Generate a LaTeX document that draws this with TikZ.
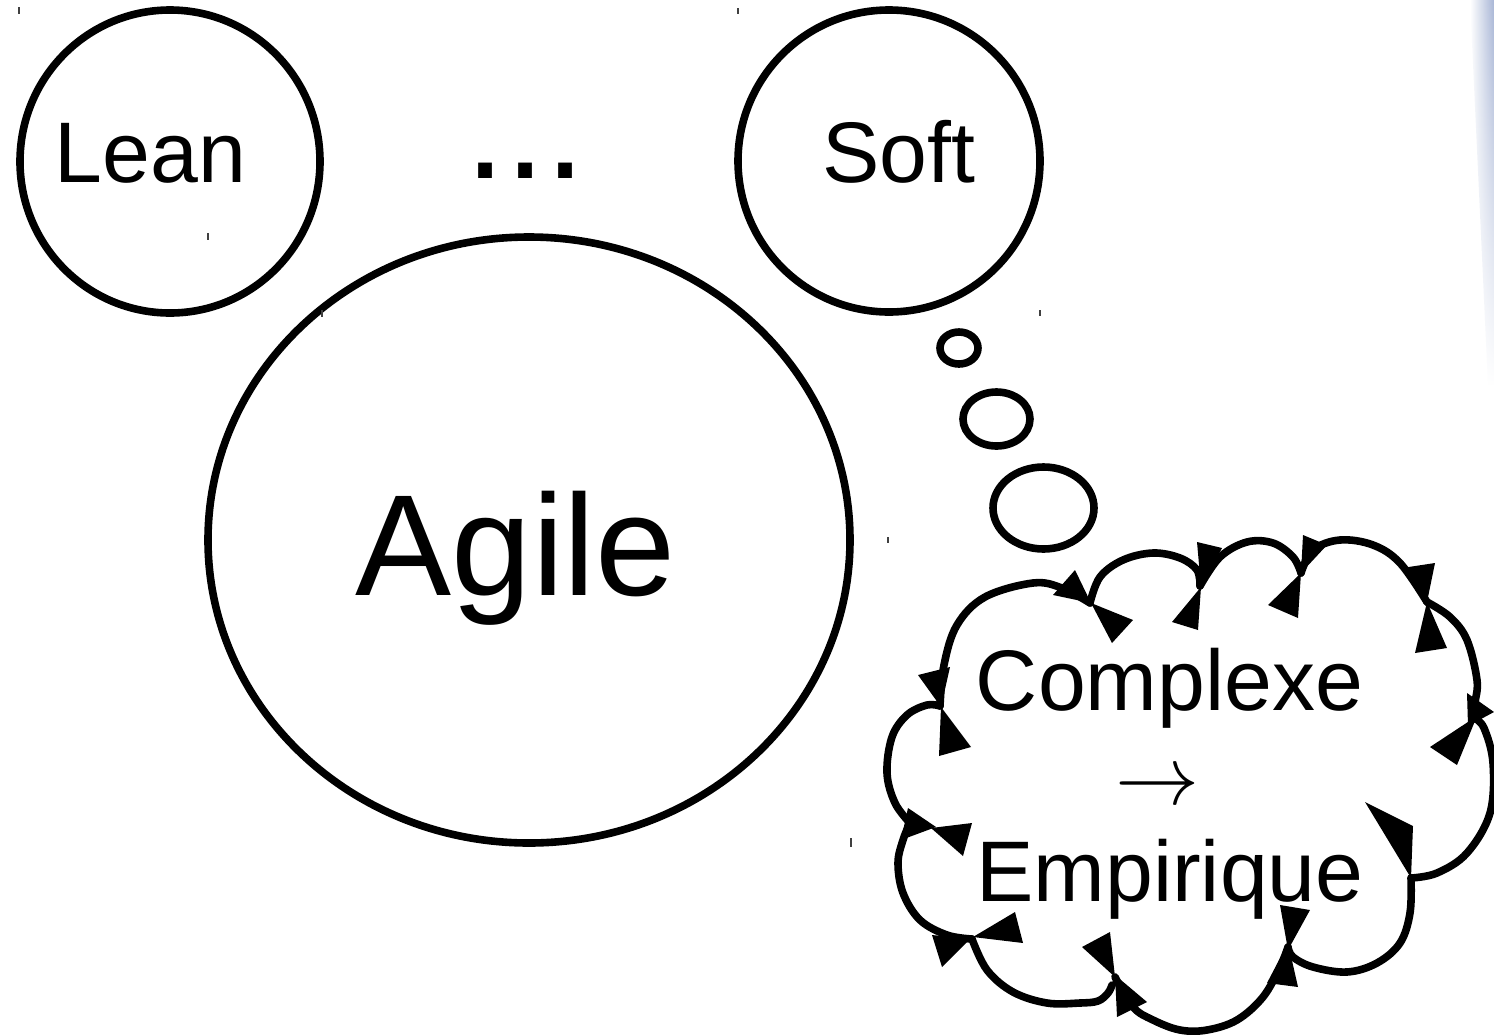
\RequirePackage{fix-cm}
\documentclass[tikz,border=0pt]{standalone}
\usepackage{fontspec}
\setmainfont{Liberation Sans}
\usetikzlibrary{fadings}
\definecolor{stripblue}{HTML}{A8B6D6}
\tikzfading[name=stripfade, top color=transparent!0, bottom color=transparent!100]
\begin{document}
\begin{tikzpicture}[x=0.5pt, y=-0.5pt,
  outline/.style={line width=3.8pt, draw=black},
  cloudarc/.style={line width=3.8pt, line cap=round, line join=round},
  cloudtip/.style={fill=black},
  marktick/.style={line width=0.6pt, draw=black!75},
  smalltext/.style={anchor=base, inner sep=0pt, font=\fontsize{43}{43}\selectfont},
  bigtext/.style={anchor=base, inner sep=0pt, font=\fontsize{72}{72}\selectfont},
]
% canvas
\fill[white] (0,0) rectangle (1494,1034);
\useasboundingbox (0,0) rectangle (1494,1034);

% faint blue strip along the right edge
\shade[left color=white, right color=stripblue, path fading=stripfade]
  (1470,0) -- (1494,0) -- (1494,385) -- (1488,385) -- cycle;

% the three circles
\draw[outline] (170,161.5) ellipse [x radius=150, y radius=151.5];
\draw[outline] (889,161) ellipse [x radius=151, y radius=151];
\draw[outline] (529,540) ellipse [x radius=321, y radius=303];

\node[smalltext] (lean) at (150.5,182) {Lean};
\node[smalltext] (soft) at (899,182) {Soft};
\node[bigtext]   (dots) at (525.5,178) {...};
\node[bigtext]   (agile) at (516,595) {Agile};

% thought bubbles
\draw[outline] (959,348) ellipse [x radius=19, y radius=16];
\draw[outline] (996.5,419) ellipse [x radius=33.5, y radius=27];
\draw[outline] (1043.5,508) ellipse [x radius=50.5, y radius=41];

% cloud outline, one bump at a time
\draw[cloudarc] plot[smooth, tension=0.6] coordinates {(940,706) (944,665) (957,625) (985,597) (1033,583) (1062,588) (1090,603)};
\draw[cloudarc] plot[smooth, tension=0.6] coordinates {(1090,603) (1100,577) (1123,560) (1153,553) (1180,558) (1197,570) (1200,586)};
\draw[cloudarc] plot[smooth, tension=0.6] coordinates {(1200,586) (1220,557) (1247,542) (1273,543) (1293,557) (1301,573)};
\draw[cloudarc] plot[smooth, tension=0.6] coordinates {(1301,573) (1313,550) (1340,540) (1373,545) (1400,563) (1427,602)};
\draw[cloudarc] plot[smooth, tension=0.6] coordinates {(1427,602) (1450,617) (1467,640) (1477,680) (1475,703) (1474,718)};
\draw[cloudarc] plot[smooth, tension=0.6] coordinates {(1474,718) (1484,728) (1493,763) (1490,813) (1467,853) (1437,873) (1411,878)};
\draw[cloudarc] plot[smooth, tension=0.6] coordinates {(1411,878) (1410,913) (1400,943) (1377,963) (1347,972) (1313,967) (1293,957) (1288,947)};
\draw[cloudarc] plot[smooth, tension=0.6] coordinates {(1288,947) (1280,967) (1263,997) (1237,1020) (1207,1030) (1180,1030) (1153,1020) (1133,1007) (1115,977)};
\draw[cloudarc] plot[smooth, tension=0.6] coordinates {(1112,985) (1108,993) (1098,1001) (1080,1003) (1047,1003) (1013,992) (987,970) (972,939)};
\draw[cloudarc] plot[smooth, tension=0.6] coordinates {(972,939) (947,935) (920,920) (903,893) (898,863) (903,840) (910,823)};
\draw[cloudarc] plot[smooth, tension=0.6] coordinates {(910,823) (895,803) (887,773) (892,737) (907,715) (927,705) (940,706)};

% arrowheads at the joins of the bumps
\fill[cloudtip] (1053,595) -- (1075,570) -- (1091,603) -- cycle;
\fill[cloudtip] (1091,603) -- (1112,643) -- (1133,620) -- cycle;
\fill[cloudtip] (918,675) -- (950,667) -- (941,707) -- cycle;
\fill[cloudtip] (941,707) -- (939,756) -- (971,747) -- cycle;
\fill[cloudtip] (908,808) -- (901,840) -- (936,827) -- cycle;
\fill[cloudtip] (972,823) -- (963,856) -- (931,828) -- cycle;
\fill[cloudtip] (1015,912) -- (1023,943) -- (973,937) -- cycle;
\fill[cloudtip] (932,935) -- (942,967) -- (970,939) -- cycle;
\fill[cloudtip] (1082,947) -- (1110,932) -- (1115,977) -- cycle;
\fill[cloudtip] (1117,1017) -- (1147,1002) -- (1115,975) -- cycle;
\fill[cloudtip] (1197,542) -- (1222,548) -- (1201,587) -- cycle;
\fill[cloudtip] (1172,622) -- (1198,630) -- (1201,587) -- cycle;
\fill[cloudtip] (1303,535) -- (1327,545) -- (1301,573) -- cycle;
\fill[cloudtip] (1268,605) -- (1298,618) -- (1301,573) -- cycle;
\fill[cloudtip] (1402,568) -- (1435,563) -- (1427,602) -- cycle;
\fill[cloudtip] (1415,653) -- (1447,648) -- (1427,602) -- cycle;
\fill[cloudtip] (1467,693) -- (1494,712) -- (1468,726) -- cycle;
\fill[cloudtip] (1430,747) -- (1457,765) -- (1477,716) -- cycle;
\fill[cloudtip] (1365,802) -- (1413,826) -- (1411,878) -- cycle;
\fill[cloudtip] (1280,905) -- (1310,910) -- (1288,950) -- cycle;
\fill[cloudtip] (1267,983) -- (1298,987) -- (1288,943) -- cycle;

% text inside the cloud
\node[smalltext] (complexe) at (1169.5,710) {Complexe};
\node[anchor=base, inner sep=0pt, font=\fontsize{42}{42}\selectfont] (arrow) at (1157.5,804) {$\rightarrow$};
\node[smalltext] (empirique) at (1170,901) {Empirique};

% small stray handle ticks
\draw[marktick] (19,7) -- (19,14);
\draw[marktick] (738,8) -- (738,14);
\draw[marktick] (208,233) -- (208,240);
\draw[marktick] (322,310) -- (322,317);
\draw[marktick] (1040,310) -- (1040,316);
\draw[marktick] (888,537) -- (888,543);
\draw[marktick] (851,838) -- (851,847);
\end{tikzpicture}
\end{document}
